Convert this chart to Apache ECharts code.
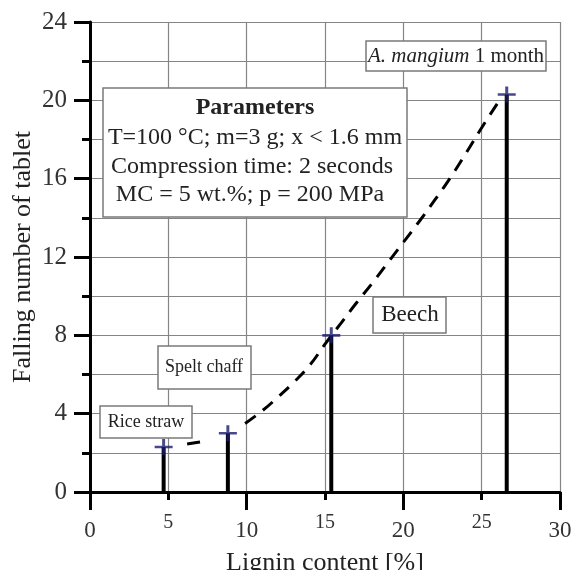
<!DOCTYPE html>
<html>
<head>
<meta charset="utf-8">
<script src="https://cdn.jsdelivr.net/npm/echarts@6/dist/echarts.min.js"></script>
<style>
  html, body { margin: 0; padding: 0; background: #fff; }
  #main { width: 574px; height: 570px; }
</style>
</head>
<body>
<div id="main"></div>
<script>
// samples
var names = ["Rice straw", "Spelt chaff", "Beech", "A. mangium 1 month"];
var lignin = [4.7, 8.8, 15.4, 26.6];
var falling = [2.3, 3.0, 8.0, 20.3];

// dashed trend line ('-' = gap in the dashes)
var fitX = [6.2, 7.2, 8.5, 9.9, 11, 12, 13, 14, 15, 16, 17, 18, 19, 20, 21, 22, 23, 24, 25, 26.3];
var fitY = [2.45, 2.58, "-", 3.5, 4.15, 4.85, 5.6, 6.45, 7.55, 8.6, 9.65, 10.65, 11.7, 12.75, 13.8, 14.9, 16.05, 17.3, 18.6, 20.2];

// tick labels
var xBigLabels = [0, 10, 20, 30];
var xSmallLabels = [5, 15, 25];

var serif = "Liberation Serif";
var gridColor = "#858585";

var myChart = echarts.init(document.getElementById("main"));

function box(x, y, w, h, lines) {
  var children = [
    {
      type: "rect",
      z: 100,
      shape: { x: x, y: y, width: w, height: h },
      style: { fill: "#fff", stroke: "#7a7a7a", lineWidth: 1.5 },
    },
  ];
  lines.forEach(function (l) {
    children.push({
      type: "text",
      z: 101,
      x: l.x,
      y: l.y,
      style: {
        text: l.text,
        fontFamily: serif,
        fontSize: l.size,
        fontWeight: l.bold ? "bold" : "normal",
        fill: "#222",
        align: "center",
        verticalAlign: "middle",
        rich: l.rich,
      },
    });
  });
  return { type: "group", z: 100, children: children };
}

option = {
  backgroundColor: "#fff",
  animation: false,
  grid: {
    left: 90,
    right: 14,
    top: 22,
    bottom: 78,
    containLabel: false,
    outerBoundsMode: "none",
  },
  xAxis: [
    {
      type: "value",
      min: 0,
      max: 30,
      interval: 5,
      position: "bottom",
      axisLine: { show: true, lineStyle: { color: "#000", width: 3 } },
      axisTick: { show: true, length: 8, lineStyle: { color: "#000", width: 3 } },
      axisLabel: {
        formatter: function (v) {
          return xSmallLabels.indexOf(v) >= 0 ? String(v) : "";
        },
        fontFamily: serif,
        fontSize: 20,
        color: "#333",
        margin: 21,
      },
      splitLine: { show: true, lineStyle: { color: gridColor, width: 1.2 } },
      name: "Lignin content [%]",
      nameLocation: "middle",
      nameGap: 58,
      nameMoveOverlap: false,
      nameTextStyle: { fontFamily: serif, fontSize: 26, color: "#222" },
    },
    {
      type: "value",
      min: 0,
      max: 30,
      interval: 10,
      position: "bottom",
      axisLine: { show: false },
      axisTick: { show: true, length: 18, lineStyle: { color: "#000", width: 3 } },
      axisLabel: {
        formatter: function (v) {
          return xBigLabels.indexOf(v) >= 0 ? String(v) : "";
        },
        fontFamily: serif,
        fontSize: 23,
        color: "#333",
        margin: 27,
      },
      splitLine: { show: false },
    },
  ],
  yAxis: {
    type: "value",
    min: 0,
    max: 24,
    interval: 4,
    axisLine: { show: true, lineStyle: { color: "#000", width: 3 } },
    axisTick: { show: true, length: 16, lineStyle: { color: "#000", width: 3 } },
    minorTick: { show: true, splitNumber: 2, length: 8, lineStyle: { color: "#000", width: 3 } },
    splitLine: { show: true, lineStyle: { color: gridColor, width: 1.2 } },
    minorSplitLine: { show: true, lineStyle: { color: gridColor, width: 1.2 } },
    axisLabel: { fontFamily: serif, fontSize: 25, color: "#333", margin: 23 },
    name: "Falling number of tablet",
    nameLocation: "middle",
    nameGap: 54,
    nameMoveOverlap: false,
    nameTextStyle: { fontFamily: serif, fontSize: 26, color: "#222" },
  },
  series: [
    {
      name: "stems",
      type: "bar",
      barWidth: 4,
      z: 3,
      itemStyle: { color: "#000" },
      data: lignin.map(function (x, i) {
        return [x, falling[i]];
      }),
    },
    {
      name: "fit",
      type: "line",
      smooth: true,
      symbol: "none",
      connectNulls: false,
      z: 4,
      lineStyle: { color: "#000", width: 3, type: [13, 9] },
      data: fitX.map(function (x, i) {
        return [x, fitY[i]];
      }),
    },
    {
      name: "points",
      type: "scatter",
      symbol: "path://M7.5,0h3v7.5h7.5v3h-7.5v7.5h-3v-7.5h-7.5v-3h7.5z",
      symbolSize: [18, 16],
      z: 5,
      itemStyle: { color: "#1c1c6b" },
      data: lignin.map(function (x, i) {
        return [x, falling[i]];
      }),
    },
  ],
  graphic: [
    box(103, 88, 304, 129, [
      { text: "Parameters", x: 255, y: 108, size: 24, bold: true },
      { text: "T=100 \u00b0C; m=3 g; x < 1.6 mm", x: 255, y: 138, size: 24 },
      { text: "Compression time: 2 seconds", x: 252, y: 167, size: 24 },
      { text: "MC = 5 wt.%; p = 200 MPa", x: 250, y: 195, size: 24 },
    ]),
    box(366, 41, 180, 30, [
      {
        text: "{i|A. mangium}{n| 1 month}",
        x: 456,
        y: 56,
        size: 21,
        rich: {
          i: { fontFamily: serif, fontSize: 21, fontStyle: "italic", fill: "#222" },
          n: { fontFamily: serif, fontSize: 21, fill: "#222" },
        },
      },
    ]),
    box(373, 297, 73, 36, [{ text: names[2], x: 410, y: 315, size: 23 }]),
    box(158, 346, 93, 43, [{ text: names[1], x: 204, y: 367, size: 18 }]),
    box(100, 406, 92, 32, [{ text: names[0], x: 146, y: 422, size: 18 }]),
  ],
};

myChart.setOption(option);
</script>
</body>
</html>
